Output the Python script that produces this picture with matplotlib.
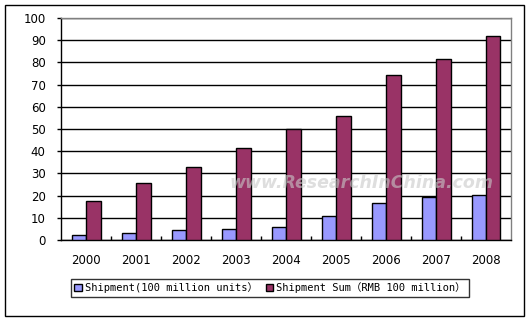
import matplotlib
matplotlib.use("Agg")
import matplotlib.pyplot as plt
import numpy as np
from matplotlib.patches import Rectangle

years = ["2000", "2001", "2002", "2003", "2004", "2005", "2006", "2007", "2008"]
shipment = [2.1, 3.2, 4.5, 4.9, 5.7, 10.7, 16.5, 19.5, 20.1]
shipment_sum = [17.4, 25.5, 32.7, 41.5, 50.2, 55.7, 74.2, 81.4, 91.9]
label_ship = "Shipment(100 million units）"
label_sum = "Shipment Sum（RMB 100 million）"

W, H = 532, 323
fig = plt.figure(figsize=(W / 100, H / 100), dpi=100)
fig.patch.set_facecolor("white")

# outer border
fig.patches.append(Rectangle((5 / W, 1 - 316 / H), 519 / W, 311 / H,
                             transform=fig.transFigure, fill=False,
                             edgecolor="black", linewidth=1.0))

ax = fig.add_axes([61 / W, 1 - 240 / H, 450 / W, 222 / H])
x = np.arange(len(years))
bw = 0.29
ax.bar(x - bw / 2, shipment, width=bw, color="#9999FF", edgecolor="black",
       linewidth=1.0, label=label_ship, zorder=3)
ax.bar(x + bw / 2, shipment_sum, width=bw, color="#993366", edgecolor="black",
       linewidth=1.0, label=label_sum, zorder=3)

ax.set_xlim(-0.5, len(years) - 0.5)
ax.set_ylim(0, 100)
ax.set_yticks(np.arange(0, 101, 10))
ax.yaxis.grid(True, color="black", linewidth=1.0, zorder=0)
ax.set_axisbelow(True)
ax.set_xticks(x)
ax.set_xticklabels(years)
ax.set_xticks(np.arange(0.5, len(years) - 0.5, 1), minor=True)
ax.tick_params(axis="x", which="major", length=0, pad=10, labelsize=8.5)
ax.tick_params(axis="x", which="minor", length=3, direction="in", width=1)
ax.tick_params(axis="y", length=3, direction="out", width=1, labelsize=8.5, pad=8)
for s in ["left", "bottom"]:
    ax.spines[s].set_color("black")
    ax.spines[s].set_linewidth(1.0)
for s in ["top", "right"]:
    ax.spines[s].set_color("#808080")
    ax.spines[s].set_linewidth(1.0)

# watermark
fig.text(361 / W, 1 - 183 / H, "www.ResearchInChina.com", ha="center", va="center",
         fontsize=12.5, fontweight="bold", fontstyle="italic", color="#c8c8c8",
         alpha=0.6, family="DejaVu Sans")

leg = fig.legend(loc="center", bbox_to_anchor=(270 / W, 1 - 288 / H), ncol=2,
                 frameon=True, fancybox=False, edgecolor="black",
                 prop={"family": ["DejaVu Sans Mono", "Noto Sans CJK SC"], "size": 7.5},
                 handlelength=0.7, handleheight=0.7, handletextpad=0.3,
                 columnspacing=0.8, borderpad=0.35, borderaxespad=0)
leg.get_frame().set_linewidth(1.0)

fig.savefig("out.png", dpi=100)
